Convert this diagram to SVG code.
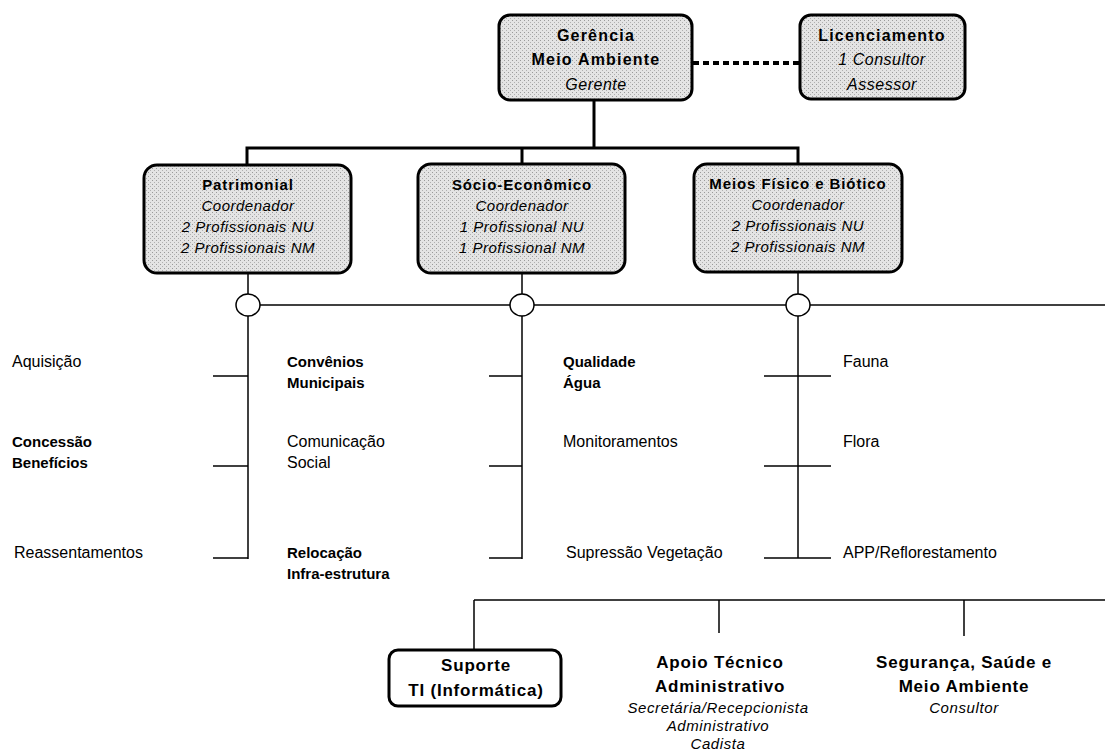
<svg xmlns="http://www.w3.org/2000/svg" width="1118" height="756" viewBox="0 0 1118 756">
<defs>
<pattern id="stip" width="4" height="4" patternUnits="userSpaceOnUse">
<rect width="4" height="4" fill="#e4e4e4"/>
<rect x="0" y="0" width="1" height="1" fill="#9a9a9a"/>
<rect x="2" y="2" width="1" height="1" fill="#b0b0b0"/>
</pattern>
</defs>
<style>
text{font-family:"Liberation Sans",Arial,sans-serif;fill:#000}
.box{fill:url(#stip);stroke:#000;stroke-width:3}
.wbox{fill:#fff;stroke:#000;stroke-width:3}
.tb{font-weight:bold;font-size:16px;letter-spacing:1.2px;text-anchor:middle}
.ti{font-style:italic;font-size:16px;letter-spacing:0.5px;text-anchor:middle}
.mb{font-weight:bold;font-size:15px;letter-spacing:0.9px;text-anchor:middle}
.mi{font-style:italic;font-size:15px;letter-spacing:0.5px;text-anchor:middle}
.r{font-size:16px}
.b{font-size:15px;font-weight:bold}
.bb{font-weight:bold;font-size:17px;letter-spacing:0.8px;text-anchor:middle}
.bi{font-style:italic;font-size:15px;letter-spacing:0.6px;text-anchor:middle}
.ln{stroke:#000;fill:none;stroke-width:1.5}
.thk{stroke:#000;fill:none;stroke-width:3}
.circ{fill:#fff;stroke:#000;stroke-width:1.5}
</style>
<g id="connectors">
<line class="thk" x1="594" y1="100" x2="594" y2="148"/>
<polyline class="thk" points="247,165 247,148 798,148 798,164"/>
<line class="thk" x1="522" y1="148" x2="522" y2="164"/>
<line x1="693" y1="63" x2="800" y2="63" stroke="#000" stroke-width="4" stroke-dasharray="6 4"/>
<line class="ln" x1="248" y1="273" x2="248" y2="294"/>
<line class="ln" x1="522" y1="273" x2="522" y2="294"/>
<line class="ln" x1="798" y1="272" x2="798" y2="294"/>
<line class="ln" x1="248" y1="305" x2="1105" y2="305"/>
<line class="ln" x1="248" y1="316" x2="248" y2="559"/>
<line class="ln" x1="522" y1="316" x2="522" y2="559"/>
<line class="ln" x1="798" y1="316" x2="798" y2="558"/>
<line class="ln" x1="213" y1="376" x2="248" y2="376"/>
<line class="ln" x1="213" y1="466" x2="248" y2="466"/>
<line class="ln" x1="213" y1="558" x2="248" y2="558"/>
<line class="ln" x1="489" y1="376" x2="522" y2="376"/>
<line class="ln" x1="489" y1="466" x2="522" y2="466"/>
<line class="ln" x1="489" y1="558" x2="522" y2="558"/>
<line class="ln" x1="764" y1="376" x2="831" y2="376"/>
<line class="ln" x1="764" y1="466" x2="831" y2="466"/>
<line class="ln" x1="764" y1="558" x2="831" y2="558"/>
<ellipse class="circ" cx="248" cy="305" rx="12" ry="11"/>
<ellipse class="circ" cx="522" cy="305" rx="12" ry="11"/>
<ellipse class="circ" cx="798" cy="305" rx="12" ry="11"/>
<line class="ln" x1="474" y1="600" x2="1105" y2="600"/>
<line class="ln" x1="474" y1="600" x2="474" y2="650"/>
<line class="ln" x1="719" y1="600" x2="719" y2="633"/>
<line class="ln" x1="964" y1="600" x2="964" y2="636"/>
</g>
<g id="gerencia">
<rect class="box" x="499" y="15" width="193" height="85" rx="11"/>
<text class="tb" x="596" y="41">Gerência</text>
<text class="tb" x="596" y="65">Meio Ambiente</text>
<text class="ti" x="596" y="90">Gerente</text>
</g>
<g id="licenciamento">
<rect class="box" x="800" y="15" width="165" height="84" rx="11"/>
<text class="tb" x="882" y="41">Licenciamento</text>
<text class="ti" x="882" y="65">1 Consultor</text>
<text class="ti" x="882" y="90">Assessor</text>
</g>
<g id="patrimonial">
<rect class="box" x="144" y="165" width="207" height="108" rx="13"/>
<text class="mb" x="248" y="190">Patrimonial</text>
<text class="mi" x="248" y="211">Coordenador</text>
<text class="mi" x="248" y="232">2 Profissionais NU</text>
<text class="mi" x="248" y="253">2 Profissionais NM</text>
</g>
<g id="socio">
<rect class="box" x="418" y="164" width="207" height="109" rx="13"/>
<text class="mb" x="522" y="190">Sócio-Econômico</text>
<text class="mi" x="522" y="211">Coordenador</text>
<text class="mi" x="522" y="232">1 Profissional NU</text>
<text class="mi" x="522" y="253">1 Profissional NM</text>
</g>
<g id="meios">
<rect class="box" x="694" y="164" width="208" height="108" rx="13"/>
<text class="mb" x="798" y="189">Meios Físico e Biótico</text>
<text class="mi" x="798" y="210">Coordenador</text>
<text class="mi" x="798" y="231">2 Profissionais NU</text>
<text class="mi" x="798" y="252">2 Profissionais NM</text>
</g>
<g id="branch-patrimonial">
<text class="r" x="12" y="367">Aquisição</text>
<text class="b" x="12" y="447">Concessão</text>
<text class="b" x="12" y="468">Benefícios</text>
<text class="r" x="14" y="558">Reassentamentos</text>
<text class="b" x="287" y="367">Convênios</text>
<text class="b" x="287" y="388">Municipais</text>
<text class="r" x="287" y="447">Comunicação</text>
<text class="r" x="287" y="468">Social</text>
<text class="b" x="287" y="558">Relocação</text>
<text class="b" x="287" y="579">Infra-estrutura</text>
</g>
<g id="branch-socio">
<text class="b" x="563" y="367">Qualidade</text>
<text class="b" x="563" y="388">Água</text>
<text class="r" x="563" y="447">Monitoramentos</text>
<text class="r" x="566" y="558">Supressão Vegetação</text>
</g>
<g id="branch-meios">
<text class="r" x="843" y="367">Fauna</text>
<text class="r" x="843" y="447">Flora</text>
<text class="r" x="843" y="558">APP/Reflorestamento</text>
</g>
<g id="suporte">
<rect class="wbox" x="389" y="650" width="172" height="56" rx="9"/>
<text class="bb" x="476" y="671">Suporte</text>
<text class="bb" x="476" y="696">TI (Informática)</text>
</g>
<g id="apoio">
<text class="bb" x="720" y="668">Apoio Técnico</text>
<text class="bb" x="720" y="692">Administrativo</text>
<text class="bi" x="718" y="713">Secretária/Recepcionista</text>
<text class="bi" x="718" y="731">Administrativo</text>
<text class="bi" x="718" y="749">Cadista</text>
</g>
<g id="seguranca">
<text class="bb" x="964" y="668">Segurança, Saúde e</text>
<text class="bb" x="964" y="692">Meio Ambiente</text>
<text class="bi" x="964" y="713">Consultor</text>
</g>
</svg>
